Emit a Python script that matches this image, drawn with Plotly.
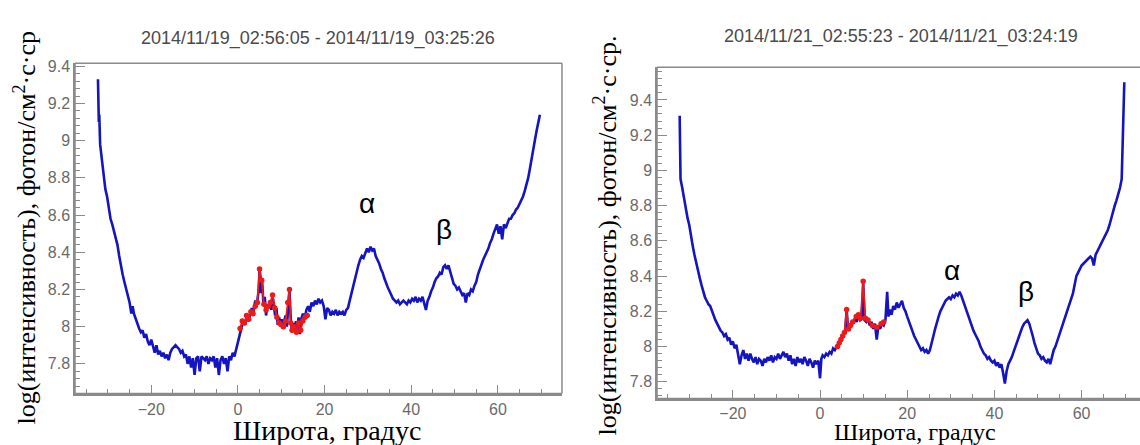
import plotly.graph_objects as go

# ---------------- data ----------------
lat_a = [-32.3,-32.2,-32.1,-32.0,-31.8,-31.5,-31.0,-30.6,-30.2,-29.8,-29.4,-29.0,-28.6,-28.2,-27.8,-27.4,-27.0,-26.6,-26.2,-25.8,
         -25.4,-25.0,-24.6,-24.3,-24.0,-23.6,-23.2,-22.8,-22.4,-22.0,-21.6,-21.2,-20.8,-20.4,-20.0,-19.6,-19.2,-18.8,-18.4,-18.0,
         -17.6,-17.2,-16.8,-16.4,-16.0,-15.6,-15.2,-14.8,-14.4,-14.0,-13.6,-13.2,-12.8,-12.4,-12.0,-11.6,-11.2,-10.8,-10.4,-10.0,
         -9.6,-9.2,-8.8,-8.4,-8.0,-7.6,-7.2,-6.8,-6.4,-6.0,-5.6,-5.2,-4.8,-4.4,-4.0,-3.6,-3.2,-2.8,-2.4,-2.0,
         -1.6,-1.2,-0.8,-0.4,0.0,0.4,0.8,1.2,1.6,2.0,2.4,2.8,3.2,3.6,4.0,4.4,4.8,5.0,5.3,5.6,
         5.9,6.2,6.5,6.8,7.1,7.4,7.7,8.0,8.3,8.6,8.9,9.2,9.5,9.8,10.1,10.4,10.7,11.0,11.3,11.6,
         11.9,12.2,12.5,12.8,13.1,13.4,13.7,14.0,14.3,14.6,15.0,15.4,15.8,16.2,16.6,17.0,17.4,17.8,18.2,18.6,
         19.0,19.4,19.8,20.2,20.6,21.0,21.4,21.8,22.2,22.6,23.0,23.4,23.8,24.2,24.6,25.0,25.4,25.8,26.2,26.6,
         27.0,27.4,27.8,28.2,28.6,29.0,29.4,29.8,30.2,30.6,31.0,31.4,31.8,32.2,32.6,33.0,33.4,33.8,34.2,34.6,
         35.0,35.4,35.8,36.2,36.6,37.0,37.4,37.8,38.2,38.6,39.0,39.4,39.8,40.2,40.6,41.0,41.4,41.8,42.2,42.6,
         43.0,43.4,43.8,44.2,44.6,45.0,45.4,45.8,46.2,46.6,47.0,47.4,47.8,48.2,48.6,49.0,49.4,49.8,50.2,50.6,
         51.0,51.4,51.8,52.2,52.6,53.0,53.4,53.8,54.2,54.6,55.0,55.4,55.8,56.2,56.6,57.0,57.4,57.8,58.2,58.6,
         59.0,59.4,59.8,60.2,60.6,61.0,61.4,61.8,62.2,62.6,63.0,63.4,63.8,64.2,64.6,65.0,65.4,65.8,66.2,66.6,
         67.0,67.4,67.8,68.2,68.6,69.0,69.4,69.7]
val_a = [9.33,9.22,9.10,9.14,8.98,8.92,8.84,8.74,8.70,8.63,8.58,8.55,8.51,8.48,8.44,8.38,8.32,8.28,8.24,8.20,
         8.16,8.13,8.07,8.11,8.07,8.04,8.02,7.99,7.97,7.98,7.94,7.96,7.92,7.90,7.93,7.89,7.86,7.90,7.85,7.87,
         7.84,7.86,7.83,7.85,7.82,7.86,7.88,7.89,7.90,7.89,7.88,7.86,7.87,7.84,7.85,7.80,7.84,7.78,7.83,7.74,
         7.83,7.84,7.76,7.84,7.83,7.82,7.84,7.80,7.83,7.82,7.84,7.78,7.83,7.74,7.82,7.84,7.80,7.83,7.76,7.84,
         7.82,7.86,7.84,7.88,7.92,7.96,8.00,8.03,8.01,8.05,8.03,8.07,8.10,8.08,8.14,8.12,8.20,8.31,8.18,8.24,
         8.12,8.16,8.06,8.12,8.10,8.14,8.09,8.16,8.12,8.06,8.10,8.01,8.05,8.02,8.04,7.99,8.03,8.06,8.00,8.12,
         8.20,8.04,7.97,8.02,7.98,8.03,7.99,8.05,7.96,8.04,8.07,8.04,8.09,8.11,8.08,8.13,8.11,8.14,8.12,8.15,
         8.13,8.14,8.11,8.04,8.10,8.09,8.06,8.08,8.07,8.09,8.06,8.08,8.07,8.08,8.06,8.09,8.10,8.14,8.18,8.22,
         8.26,8.30,8.33,8.36,8.38,8.37,8.40,8.42,8.40,8.43,8.41,8.42,8.38,8.36,8.34,8.31,8.29,8.26,8.23,8.21,
         8.19,8.17,8.15,8.14,8.13,8.14,8.12,8.13,8.14,8.13,8.12,8.14,8.13,8.15,8.14,8.16,8.13,8.15,8.14,8.16,
         8.12,8.09,8.14,8.16,8.19,8.21,8.24,8.26,8.27,8.29,8.28,8.32,8.33,8.31,8.33,8.30,8.26,8.23,8.22,8.20,
         8.21,8.19,8.17,8.18,8.13,8.18,8.17,8.20,8.19,8.22,8.24,8.28,8.31,8.34,8.36,8.38,8.40,8.42,8.45,8.47,
         8.50,8.53,8.55,8.50,8.54,8.47,8.55,8.53,8.56,8.58,8.58,8.60,8.61,8.63,8.64,8.66,8.68,8.70,8.73,8.76,
         8.80,8.85,8.91,8.96,9.01,9.06,9.11,9.14]

red_lat_a = [0.5,1.0,1.5,2.0,2.5,3.0,3.5,4.0,4.5,5.0,5.5,6.0,6.5,7.0,7.5,8.0,8.5,9.0,9.5,10.0,
             10.5,11.0,11.5,11.9,12.2,12.5,13.0,13.5,14.0,14.5,15.0,15.5,16.0]
red_val_a = [7.99,8.03,8.02,8.06,8.04,8.08,8.07,8.11,8.13,8.31,8.25,8.12,8.09,8.11,8.13,8.17,8.10,8.05,8.02,8.01,
             8.00,8.03,8.13,8.20,8.02,7.98,8.00,7.97,8.02,7.98,8.03,8.05,8.06]

lat_b = [-32.2,-32.1,-32.0,-31.6,-31.2,-30.8,-30.4,-30.0,-29.6,-29.2,-28.8,-28.4,-28.0,-27.6,-27.2,-26.8,-26.4,-26.0,-25.6,-25.2,
         -24.8,-24.4,-24.0,-23.6,-23.2,-22.8,-22.4,-22.0,-21.6,-21.2,-20.8,-20.4,-20.0,-19.6,-19.2,-18.8,-18.4,-18.0,-17.6,-17.2,
         -16.8,-16.4,-16.0,-15.6,-15.2,-14.8,-14.4,-14.0,-13.6,-13.2,-12.8,-12.4,-12.0,-11.6,-11.2,-10.8,-10.4,-10.0,-9.6,-9.2,
         -8.8,-8.4,-8.0,-7.6,-7.2,-6.8,-6.4,-6.0,-5.6,-5.2,-4.8,-4.4,-4.0,-3.6,-3.2,-2.8,-2.4,-2.0,-1.6,-1.2,
         -0.8,-0.4,0.0,0.3,0.6,1.0,1.4,1.8,2.2,2.6,3.0,3.4,3.8,4.2,4.6,5.0,5.4,5.8,6.1,6.4,
         6.8,7.2,7.6,8.0,8.4,8.8,9.2,9.6,9.9,10.2,10.6,11.0,11.4,11.8,12.2,12.6,13.0,13.4,13.8,14.2,
         14.6,15.0,15.4,15.7,16.0,16.4,16.8,17.2,17.6,18.0,18.4,18.8,19.2,19.6,20.0,20.4,20.8,21.2,21.6,22.0,
         22.4,22.8,23.2,23.6,24.0,24.4,24.8,25.2,25.6,26.0,26.4,26.8,27.2,27.6,28.0,28.4,28.8,29.2,29.6,30.0,
         30.4,30.8,31.2,31.6,32.0,32.4,32.8,33.2,33.6,34.0,34.4,34.8,35.2,35.6,36.0,36.4,36.8,37.2,37.6,38.0,
         38.4,38.8,39.2,39.6,40.0,40.4,40.8,41.2,41.6,42.0,42.4,42.8,43.2,43.6,44.0,44.4,44.8,45.2,45.6,46.0,
         46.4,46.8,47.2,47.6,48.0,48.4,48.8,49.2,49.6,50.0,50.4,50.8,51.2,51.6,52.0,52.4,52.8,53.2,53.6,54.0,
         54.4,54.8,55.2,55.6,56.0,56.4,56.8,57.2,57.6,58.0,58.4,58.8,59.2,59.6,60.0,60.4,60.8,61.2,61.6,62.0,
         62.4,62.8,63.2,63.6,64.0,64.4,64.8,65.2,65.6,66.0,66.4,66.8,67.2,67.6,68.0,68.4,68.8,69.2,69.4,69.6,
         69.8]
val_b = [9.31,9.05,8.95,8.90,8.84,8.78,8.73,8.69,8.62,8.57,8.52,8.47,8.43,8.39,8.35,8.31,8.28,8.26,8.24,8.23,
         8.20,8.17,8.15,8.13,8.11,8.09,8.08,8.06,8.07,8.04,8.05,8.01,8.03,7.99,8.01,7.94,7.90,7.95,7.98,7.93,
         7.96,7.92,7.96,7.93,7.91,7.94,7.90,7.93,7.92,7.89,7.93,7.91,7.94,7.92,7.95,7.91,7.94,7.93,7.96,7.93,
         7.95,7.97,7.94,7.96,7.92,7.95,7.90,7.93,7.89,7.94,7.91,7.93,7.90,7.94,7.92,7.89,7.93,7.91,7.88,7.92,
         7.90,7.92,7.82,7.93,7.95,7.94,7.96,7.95,7.97,7.96,7.99,7.98,8.00,8.01,8.03,8.05,8.07,8.09,8.21,8.11,
         8.10,8.13,8.14,8.16,8.14,8.18,8.15,8.16,8.37,8.15,8.14,8.16,8.12,8.14,8.10,8.13,8.04,8.12,8.10,8.13,
         8.12,8.15,8.31,8.17,8.21,8.18,8.23,8.21,8.25,8.22,8.24,8.26,8.22,8.20,8.17,8.14,8.11,8.08,8.06,8.04,
         8.02,8.00,7.98,7.99,7.97,7.98,7.96,7.98,8.03,8.06,8.10,8.14,8.17,8.20,8.22,8.24,8.26,8.27,8.28,8.27,
         8.29,8.28,8.30,8.29,8.31,8.29,8.26,8.23,8.20,8.18,8.15,8.12,8.09,8.07,8.05,8.03,8.00,7.98,7.96,7.95,
         7.93,7.94,7.92,7.91,7.92,7.89,7.91,7.88,7.90,7.85,7.79,7.86,7.90,7.92,7.94,7.97,8.00,8.03,8.06,8.09,
         8.11,8.13,8.14,8.15,8.13,8.10,8.06,8.02,7.99,7.96,7.95,7.93,7.94,7.92,7.91,7.93,7.90,7.95,7.98,8.00,
         8.03,8.06,8.09,8.12,8.15,8.18,8.21,8.23,8.26,8.30,8.35,8.40,8.42,8.44,8.46,8.47,8.48,8.49,8.50,8.51,
         8.50,8.46,8.52,8.54,8.56,8.58,8.60,8.62,8.64,8.66,8.69,8.73,8.77,8.80,8.83,8.86,8.90,8.95,9.10,9.30,
         9.50]

red_lat_b = [4.0,4.4,4.8,5.2,5.6,6.1,6.5,7.0,7.5,8.3,8.8,9.3,9.9,10.4,11.0,12.0,13.0,14.0,14.6]
red_val_b = [8.00,8.02,8.04,8.06,8.08,8.21,8.10,8.12,8.14,8.17,8.18,8.16,8.37,8.16,8.15,8.12,8.11,8.13,8.14]

titles = ["2014/11/19_02:56:05 - 2014/11/19_03:25:26", "2014/11/21_02:55:23 - 2014/11/21_03:24:19"]
ytitles = ["log(интенсивность), фотон/см<sup>2</sup>·с·ср", "log(интенсивность), фотон/см<sup>2</sup>·с·ср."]
xtitle = "Широта, градус"
peak_labels = ["α", "β"]
peak_pos_a = [(29.8, 8.66), (47.6, 8.52)]
peak_pos_b = [(30.2, 8.43), (47.2, 8.31)]

# ---------------- figure ----------------
BLUE = "#1414c0"
RED = "#ec1a1a"
fig = go.Figure()
for (lx, ly, rx, ry, xa, ya) in [(lat_a, val_a, red_lat_a, red_val_a, "x", "y"),
                                 (lat_b, val_b, red_lat_b, red_val_b, "x2", "y2")]:
    fig.add_trace(go.Scatter(x=lx, y=ly, mode="lines", line=dict(color=BLUE, width=2.6),
                             xaxis=xa, yaxis=ya, showlegend=False))
    fig.add_trace(go.Scatter(x=rx, y=ry, mode="lines+markers", line=dict(color=RED, width=1.8),
                             marker=dict(color=RED, size=5.5), xaxis=xa, yaxis=ya, showlegend=False))

tickfont = dict(family="Liberation Sans, Arial", size=16, color="#6a6a6a")
axcol = "#8a8a8a"

def xax(domain, rng, anchor):
    return dict(domain=domain, range=rng, anchor=anchor, showgrid=False, zeroline=False,
                showline=True, linecolor=axcol, linewidth=1.5, mirror=False,
                ticks="inside", ticklen=9, tickcolor=axcol, tickwidth=1.2,
                dtick=20, tick0=0, tickfont=tickfont,
                minor=dict(ticks="inside", ticklen=5, dtick=5, tickcolor=axcol, tickwidth=1))

def yax(domain, rng, anchor):
    return dict(domain=domain, range=rng, anchor=anchor, showgrid=False, zeroline=False,
                showline=True, linecolor=axcol, linewidth=1.5, mirror=False,
                ticks="inside", ticklen=10, tickcolor=axcol, tickwidth=1.2,
                dtick=0.2, tick0=0, tickfont=tickfont,
                minor=dict(ticks="inside", ticklen=5, dtick=0.04, tickcolor=axcol, tickwidth=1))

W, H = 1140, 445
L1, R1, T1, B1 = 75, 562, 59, 393
L2, R2, T2, B2 = 657, 1140, 63, 398
fig.update_layout(
    width=W, height=H, margin=dict(l=0, r=0, t=0, b=0),
    paper_bgcolor="white", plot_bgcolor="white",
    xaxis=xax([L1 / W, R1 / W], [-37.6, 74.8], "y"),
    yaxis=yax([1 - B1 / H, 1 - T1 / H], [7.64, 9.416], "x"),
    xaxis2=xax([L2 / W, 1.0], [-37.4, 73.4], "y2"),
    yaxis2=yax([1 - B2 / H, 1 - T2 / H], [7.705, 9.585], "x2"),
)

# frame lines in paper coordinates
def pline(x0, y0, x1, y1):
    fig.add_shape(type="line", xref="paper", yref="paper",
                  x0=x0 / W, y0=1 - y0 / H, x1=x1 / W, y1=1 - y1 / H,
                  line=dict(color=axcol, width=1.5), layer="above")

pline(L1, T1, R1, T1)
pline(R1, T1, R1, B1)
pline(L1, T1, L1, B1)
pline(L1, B1, R1, B1)
pline(L2, T2, R2, T2)
pline(L2, T2, L2, B2)
pline(L2, B2, R2, B2)

def pann(text, px, py, size, family, color="black", angle=0):
    return dict(text=text, x=px / W, y=1 - py / H, xref="paper", yref="paper", showarrow=False,
                xanchor="center", yanchor="middle", textangle=angle,
                font=dict(family=family, size=size, color=color))

SANS = "Liberation Sans, Arial"
SERIF = "Liberation Serif, Times New Roman"
ann = [
    pann(titles[0], 318, 34, 18, SANS, "#4a4a4a"),
    pann(titles[1], 901, 32, 18, SANS, "#4a4a4a"),
    pann(ytitles[0], 25, 226, 26, SERIF, angle=-90),
    pann(ytitles[1], 605, 233, 26, SERIF, angle=-90),
    pann(xtitle, 327, 430, 28, SERIF),
    pann(xtitle, 915, 432, 24, SERIF),
]
for lab, (px, py) in zip(peak_labels, peak_pos_a):
    ann.append(dict(text=lab, x=px, y=py, xref="x", yref="y", showarrow=False,
                    xanchor="center", yanchor="middle",
                    font=dict(family=SANS, size=28, color="black")))
for lab, (px, py) in zip(peak_labels, peak_pos_b):
    ann.append(dict(text=lab, x=px, y=py, xref="x2", yref="y2", showarrow=False,
                    xanchor="center", yanchor="middle",
                    font=dict(family=SANS, size=28, color="black")))
fig.update_layout(annotations=ann)

fig.write_html("out.html")
